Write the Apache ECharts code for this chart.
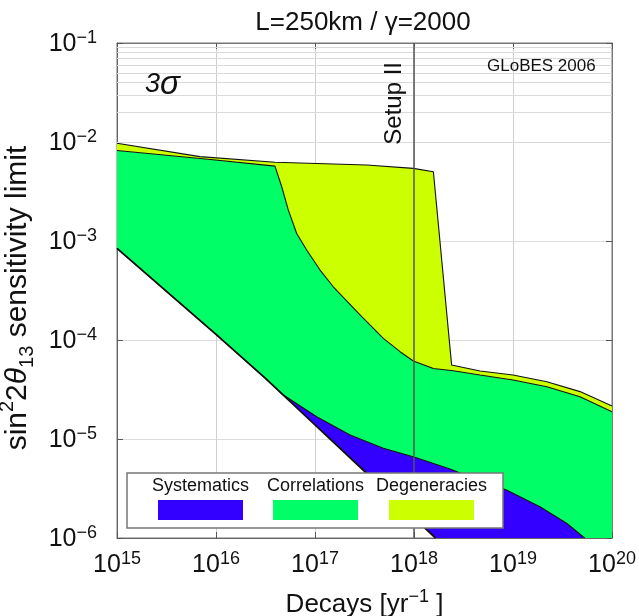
<!DOCTYPE html>
<html><head><meta charset="utf-8">
<script src="https://cdn.jsdelivr.net/npm/echarts@6/dist/echarts.min.js"></script>
<style>html,body{margin:0;padding:0;background:#fff}#c{width:639px;height:616px}</style>
</head><body><div id="c"></div>
<script>
const FONT = '"Liberation Sans", Arial, Helvetica, sans-serif';

// axis ranges and tick labels
const xMin = 1e15, xMax = 1e20, yMin = 1e-6, yMax = 1e-1;
const xTickExp = [15, 16, 17, 18, 19, 20];
const xTickSup = ['15', '16', '17', '18', '19', '20'];
const yTickExp = [-6, -5, -4, -3, -2, -1];
const yTickSup = ['\u22126', '\u22125', '\u22124', '\u22123', '\u22122', '\u22121'];

// statistics only (lower edge of the blue band)
const statX = [1e15, 3.16e15, 1e16, 3.16e16, 1e17, 3.16e17, 1e18, 1.65e18];
const statY = [8.43e-4, 3.10e-4, 1.14e-4, 4.10e-5, 1.39e-5, 4.72e-6, 1.60e-6, 1.0e-6];
// with systematics
const sysX = [1e15, 3.16e15, 1e16, 3.16e16, 4.8e16, 1.04e17, 2.26e17, 4.9e17, 9.8e17, 2.31e18, 3.97e18, 8.6e18, 1.87e19, 3.48e19, 5.1e19, 5.33e19];
const sysY = [8.43e-4, 3.10e-4, 1.14e-4, 4.10e-5, 2.78e-5, 1.68e-5, 1.10e-5, 8.05e-6, 6.62e-6, 4.98e-6, 4.01e-6, 3.05e-6, 2.07e-6, 1.41e-6, 1.03e-6, 1.0e-6];
// with correlations
const corrX = [1e15, 9.33e15, 3.94e16, 4.61e16, 5.37e16, 6.53e16, 8.24e16, 1.125e17, 1.53e17, 2.85e17, 4.9e17, 7.23e17, 9.84e17, 1.57e18, 2.49e18, 4.64e18, 1e19, 2.2e19, 4.75e19, 1e20];
const corrY = [8.20e-3, 6.61e-3, 5.70e-3, 3.53e-3, 2.06e-3, 1.19e-3, 8.11e-4, 5.09e-4, 3.45e-4, 1.79e-4, 1.04e-4, 7.62e-5, 6.14e-5, 5.15e-5, 4.89e-5, 4.43e-5, 3.94e-5, 3.37e-5, 2.67e-5, 1.89e-5];
// with degeneracies
const degX = [1e15, 6.89e15, 3.94e16, 3.33e17, 9.84e17, 1.57e18, 2.40e18, 4.64e18, 1e19, 2.2e19, 4.75e19, 1e20];
const degY = [9.70e-3, 7.11e-3, 6.24e-3, 5.86e-3, 5.42e-3, 5.01e-3, 5.58e-5, 4.86e-5, 4.43e-5, 3.79e-5, 3.01e-5, 2.15e-5];

const setupX = 1e18;
const bandNames = ['Systematics', 'Correlations', 'Degeneracies'];
const bandColors = ['#3300ff', '#00ff66', '#ccff00'];

function pts(xs, ys) { return xs.map((x, i) => [x, ys[i]]); }
const statPts = pts(statX, statY), sysPts = pts(sysX, sysY), corrPts = pts(corrX, corrY), degPts = pts(degX, degY);
const bandPolys = [
  sysPts.concat(statPts.slice().reverse()),
  corrPts.concat([[xMax, yMin]], sysPts.slice().reverse()),
  degPts.concat(corrPts.slice().reverse())
];

// minor horizontal grid lines (2..9 within each decade)
const yMinor = [];
for (let e = -6; e <= -2; e++) for (let k = 2; k <= 9; k++) yMinor.push({ yAxis: k * Math.pow(10, e) });

const chart = echarts.init(document.getElementById('c'), null, { renderer: 'canvas' });

function bandSeries(i) {
  return {
    type: 'custom', name: bandNames[i], coordinateSystem: 'cartesian2d', z: 2, silent: true, clip: true,
    itemStyle: { color: bandColors[i] },
    data: [[1e17, 1e-4]],
    renderItem: function (params, api) {
      const points = bandPolys[i].map(p => api.coord(p));
      return { type: 'polygon', shape: { points: points }, style: { fill: bandColors[i] } };
    }
  };
}
function edge(xs, ys, w) {
  return { type: 'line', data: pts(xs, ys), symbol: 'none', silent: true, z: 3,
    lineStyle: { color: '#111', width: w }, animation: false };
}

const supRich = {
  b: { fontSize: 25, lineHeight: 28, verticalAlign: 'bottom', fontFamily: FONT, color: '#111' },
  s: { fontSize: 18, lineHeight: 18, verticalAlign: 'top', fontFamily: FONT, color: '#111' }
};

const option = {
  animation: false,
  backgroundColor: '#fff',
  title: {
    text: 'L=250km / \u03b3=2000', left: 363, top: 10, textAlign: 'center', padding: 0,
    textStyle: { fontFamily: FONT, fontSize: 26, fontWeight: 'normal', color: '#111' }
  },
  grid: { left: 117, right: 27, top: 43, bottom: 78, show: true, borderColor: '#777', borderWidth: 1,
    containLabel: false, outerBoundsMode: 'none' },
  legend: bandNames.map((n, i) => ({
    data: [n], left: [158, 273, 389][i], top: 500, icon: 'rect', itemWidth: 85, itemHeight: 20,
    formatter: () => '', z: 102, selectedMode: false, padding: 0
  })),
  xAxis: [{
    type: 'log', logBase: 10, min: xMin, max: xMax, position: 'bottom',
    axisLine: { show: true, lineStyle: { color: '#666' } },
    axisTick: { inside: true, length: 6, lineStyle: { color: '#555' } },
    splitLine: { show: true, lineStyle: { color: '#cfcfcf' } },
    axisLabel: {
      margin: 12,
      formatter: v => '{b|10}{s|' + xTickSup[xTickExp.indexOf(Math.round(Math.log10(v)))] + '}',
      rich: supRich
    },
    name: '{b|Decays [yr}{s|\u22121}{b| ]}', nameLocation: 'middle', nameGap: 50,
    nameTextStyle: { rich: {
      b: { fontSize: 26, lineHeight: 30, verticalAlign: 'bottom', fontFamily: FONT, color: '#111' },
      s: { fontSize: 18, lineHeight: 18, verticalAlign: 'top', fontFamily: FONT, color: '#111' } } }
  }, {
    type: 'log', logBase: 10, min: xMin, max: xMax, position: 'top',
    axisLine: { show: true, lineStyle: { color: '#777' } },
    axisTick: { inside: true, length: 6, lineStyle: { color: '#555' } },
    axisLabel: { show: false }, splitLine: { show: false }
  }],
  yAxis: [{
    type: 'log', logBase: 10, min: yMin, max: yMax, position: 'left',
    axisLine: { show: true, lineStyle: { color: '#666' } },
    axisTick: { inside: true, length: 6, lineStyle: { color: '#555' } },
    splitLine: { show: true, lineStyle: { color: '#dcdcdc' } },
    axisLabel: {
      margin: 20,
      formatter: v => '{b|10}{s|' + yTickSup[yTickExp.indexOf(Math.round(Math.log10(v)))] + '}',
      rich: supRich
    },
    name: '{b|sin}{p|2}{b|2}{i|\u03b8}{d|13}{b| sensitivity limit}', nameLocation: 'middle', nameGap: 70,
    nameTextStyle: { padding: [0, 15, 0, 0], rich: {
      b: { fontSize: 30, lineHeight: 40, verticalAlign: 'middle', fontFamily: FONT, color: '#111' },
      i: { fontSize: 30, lineHeight: 40, verticalAlign: 'middle', fontStyle: 'italic', fontFamily: FONT, color: '#111' },
      p: { fontSize: 20, lineHeight: 20, verticalAlign: 'top', fontFamily: FONT, color: '#111' },
      d: { fontSize: 20, lineHeight: 20, verticalAlign: 'bottom', fontFamily: FONT, color: '#111' } } }
  }, {
    type: 'log', logBase: 10, min: yMin, max: yMax, position: 'right',
    axisLine: { show: true, lineStyle: { color: '#777' } },
    axisTick: { inside: true, length: 6, lineStyle: { color: '#555' } },
    axisLabel: { show: false }, splitLine: { show: false }
  }],
  graphic: [
    { type: 'text', left: 145, top: 68, z: 50, style: { text: '{a|3}{b|\u03c3}', rich: {
        a: { fontSize: 27, fontStyle: 'italic', fontFamily: FONT, fill: '#111', lineHeight: 30 },
        b: { fontSize: 33, fontStyle: 'italic', fontFamily: FONT, fill: '#111', lineHeight: 30 } } } },
    { type: 'text', left: 487, top: 58, z: 50, style: { text: 'GLoBES 2006', font: '17px ' + FONT, fill: '#111' } },
    { type: 'rect', z: 100, shape: { x: 127, y: 473, width: 376, height: 55 },
      style: { fill: '#fff', stroke: '#777', lineWidth: 1.5 } },
    { type: 'text', z: 101, x: 200.5, y: 486, style: { text: 'Systematics', font: '18px ' + FONT, fill: '#111', textAlign: 'center', textVerticalAlign: 'middle' } },
    { type: 'text', z: 101, x: 315.5, y: 486, style: { text: 'Correlations', font: '18px ' + FONT, fill: '#111', textAlign: 'center', textVerticalAlign: 'middle' } },
    { type: 'text', z: 101, x: 431.5, y: 486, style: { text: 'Degeneracies', font: '18px ' + FONT, fill: '#111', textAlign: 'center', textVerticalAlign: 'middle' } }
  ],
  series: [
    { type: 'line', data: [], z: 1, silent: true,
      markLine: { silent: true, symbol: ['none', 'none'], animation: false, label: { show: false },
        lineStyle: { color: '#dadada', width: 1, type: 'solid' }, data: yMinor } },
    bandSeries(0), bandSeries(1), bandSeries(2),
    edge(statX, statY, 1.8), edge(sysX, sysY, 1.1), edge(corrX, corrY, 1.1), edge(degX, degY, 1.1),
    { type: 'line', data: [], z: 5, silent: true,
      markLine: { silent: true, symbol: ['none', 'none'], animation: false,
        lineStyle: { color: '#555', width: 2, type: 'solid', opacity: 0.75 },
        label: { show: true, formatter: 'Setup II', position: 'insideEndTop', distance: 8, padding: [0, 11, 0, 0],
          opacity: 1, fontFamily: FONT, fontSize: 24, color: '#111' },
        data: [{ xAxis: setupX }] } }
  ]
};
chart.setOption(option);
</script></body></html>
